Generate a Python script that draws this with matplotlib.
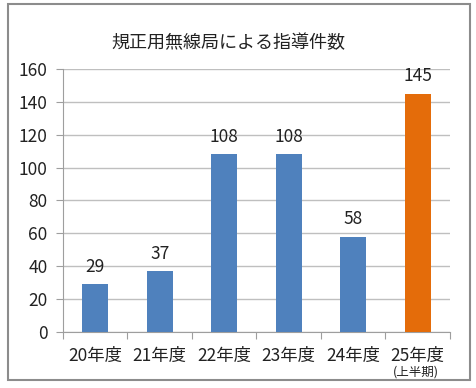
import matplotlib.pyplot as plt
from matplotlib.patches import Rectangle

plt.rcParams['font.family'] = ['Noto Sans CJK JP', 'DejaVu Sans']

# Data
categories = ['20年度', '21年度', '22年度', '23年度', '24年度', '25年度']
counts = [29, 37, 108, 108, 58, 145]
bar_colors = ['#4F81BD', '#4F81BD', '#4F81BD', '#4F81BD', '#4F81BD', '#E46C0A']
y_ticks = [0, 20, 40, 60, 80, 100, 120, 140, 160]
title = '規正用無線局による指導件数'
sub_note = '(上半期)'

W, H = 477, 388
fig = plt.figure(figsize=(W / 100, H / 100), dpi=100)

# outer chart border
fig.patches.append(Rectangle((8 / W, 1 - 380 / H), 462 / W, 376 / H, transform=fig.transFigure,
                             fill=False, edgecolor='#8C8C8C', linewidth=1.5))

ax = fig.add_axes([63 / W, 1 - 332 / H, (450 - 63) / W, (332 - 69) / H])

x = range(len(categories))
bars = ax.bar(x, counts, width=0.4, color=bar_colors, zorder=3)
for xi, v in zip(x, counts):
    ax.text(xi, v + 5, str(v), ha='center', va='bottom', fontsize=12.5, color='#222222')

ax.set_xlim(-0.5, len(categories) - 0.5)
ax.set_ylim(0, 160)
ax.set_yticks(y_ticks)
ax.yaxis.grid(True, color='#BFBFBF', linewidth=1)
ax.set_axisbelow(True)

ax.set_xticks([i - 0.5 for i in range(len(categories) + 1)], minor=False)
ax.set_xticklabels([])
ax.tick_params(axis='x', length=5, color='#9E9E9E')
ax.tick_params(axis='y', length=5, color='#9E9E9E', labelsize=12.5, labelcolor='#222222', pad=6)
for i, lab in enumerate(categories):
    ax.text(i, -14.5, lab, ha='center', va='center', fontsize=12.5, color='#222222')
ax.text(4.97, -24.5, sub_note, ha='center', va='center', fontsize=9, color='#222222')

for s in ['top', 'right']:
    ax.spines[s].set_visible(False)
ax.spines['left'].set_color('#9E9E9E')
ax.spines['bottom'].set_color('#9E9E9E')

fig.text(228 / W, 1 - 43 / H, title, ha='center', va='center', fontsize=13, color='#222222')

fig.savefig('out.png', dpi=100)
